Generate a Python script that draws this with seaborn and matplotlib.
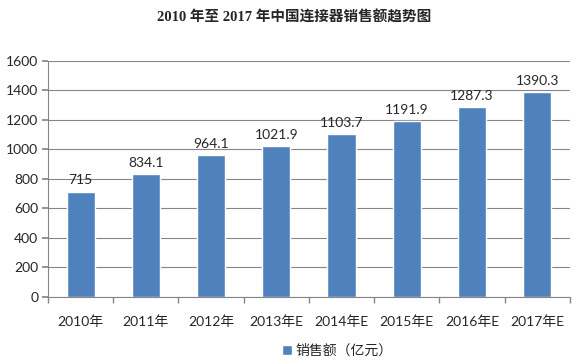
import matplotlib
matplotlib.use("Agg")
import matplotlib.pyplot as plt
import seaborn as sns
import pandas as pd

years = ["2010年", "2011年", "2012年", "2013年E", "2014年E", "2015年E", "2016年E", "2017年E"]
sales = [715, 834.1, 964.1, 1021.9, 1103.7, 1191.9, 1287.3, 1390.3]
labels = ["715", "834.1", "964.1", "1021.9", "1103.7", "1191.9", "1287.3", "1390.3"]
series_name = "销售额（亿元）"
yticks = [0, 200, 400, 600, 800, 1000, 1200, 1400, 1600]

sns.set_theme(style="white")
plt.rcParams['font.family'] = ['Lato', 'Noto Sans CJK SC', 'DejaVu Sans']

df = pd.DataFrame({"year": years, "sales": sales, "series": series_name})

fig = plt.figure(figsize=(5.82, 3.62), dpi=100)
ax = fig.add_axes([0.0825, 0.1796, 0.8965, 0.652])
sns.barplot(data=df, x="year", y="sales", hue="series", palette=["#4f81bd"],
            width=0.43, ax=ax, saturation=1)

ax.set_ylim(0, 1600)
ax.set_yticks(yticks)
ax.set_xlim(-0.5, len(years) - 0.5)
ax.yaxis.grid(True, color="#868686", linewidth=0.8)
ax.set_axisbelow(True)
for s in ["top", "right"]:
    ax.spines[s].set_visible(False)
for s in ["left", "bottom"]:
    ax.spines[s].set_color("#868686")
    ax.spines[s].set_linewidth(0.8)
ax.set_xlabel("")
ax.set_ylabel("")
ax.tick_params(axis="y", left=True, length=4, color="#868686", labelsize=10, pad=3)
ax.set_xticks(range(len(years)))
ax.set_xticklabels(years, fontsize=10)
ax.tick_params(axis="x", bottom=False, labelsize=10, pad=7)
ax.set_xticks([i + 0.5 for i in range(-1, len(years))], minor=True)
ax.tick_params(axis="x", which="minor", bottom=True, length=4, color="#868686")

for i, (v, t) in enumerate(zip(sales, labels)):
    ax.text(i, v + 35, t, ha="center", va="bottom", fontsize=10)

fig.text(0.505, 0.952, "2010 年至 2017 年中国连接器销售额趋势图", ha="center", va="center",
         fontsize=10.5, fontweight="bold", family=["Liberation Serif", "Noto Sans CJK SC"])

leg = ax.legend(loc="center", bbox_to_anchor=(0.555, -0.225), frameon=False, fontsize=10,
                handlelength=0.7, handleheight=0.7, handletextpad=0.3)

fig.savefig("out.png", dpi=100)
